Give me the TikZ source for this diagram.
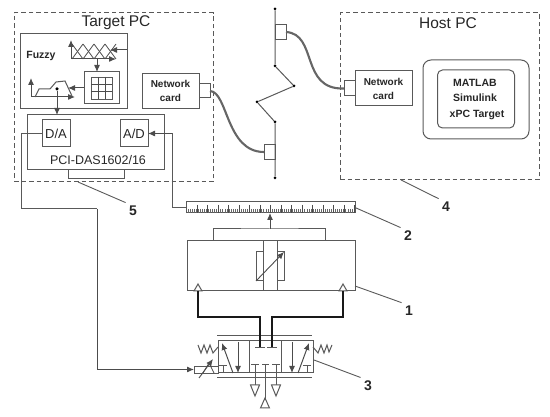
\documentclass[tikz,border=0pt]{standalone}
\usepackage{fontspec}
\setmainfont{Liberation Sans}
\usetikzlibrary{positioning, arrows.meta, calc}

\begin{document}
\begin{tikzpicture}[
    x=1pt, y=-1pt,
    >=Latex,
    every node/.style={align=center, text=black!85},
    frame/.style={draw=black!65, line width=1pt, dash pattern=on 4.5pt off 3pt, minimum width=#1, outer sep=0pt, inner sep=0pt},
    box/.style={draw=black!65, line width=1pt, outer sep=0pt, inner sep=0pt},
    softbox/.style={draw=black!65, line width=1pt, rounded corners=8pt, outer sep=0pt, inner sep=0pt},
    title/.style={font=\fontsize{15.5}{18}\selectfont},
    card/.style={font=\fontsize{10}{14}\selectfont\bfseries},
    number/.style={font=\fontsize{14}{16}\selectfont\bfseries},
    flow/.style={->, line width=1pt, draw=black!70, >={Latex[length=7pt,width=6pt]}},
    wire/.style={line width=1pt, draw=black!65},
    thin wire/.style={line width=0.8pt, draw=black!70},
    leader/.style={line width=0.9pt, draw=black!65},
    cable/.style={line width=2.1pt, draw=black!60},
    pipe/.style={line width=2.4pt, draw=black!90},
    dot/.style={circle, fill=black, inner sep=0pt, minimum size=3.5pt, outer sep=0pt}
]
\useasboundingbox (0,0) rectangle (550,417);

% --------------------------------------------------------------------------
% Target PC
% --------------------------------------------------------------------------
\node[frame=199pt, minimum height=169pt] (target) at (113.5,97.5) {};
\node[title] (targetlabel) at (116,23) {Target PC};

\node[box, minimum width=107pt, minimum height=75pt] (fuzzy) at (73.5,71.5) {};
\node[font=\fontsize{10.5}{12}\selectfont\bfseries] (fuzzylabel) at (41,56) {Fuzzy};
\node[box, minimum width=35pt, minimum height=32pt] (rules) at (101.5,88) {};
\node[box, line width=0.8pt, minimum width=21pt, minimum height=22pt] (grid) at (101.5,88) {};
\foreach \i in {1,2} {
    \draw[thin wire] ($(grid.north west)!\i/3!(grid.north east)$) -- ($(grid.south west)!\i/3!(grid.south east)$);
    \draw[thin wire] ($(grid.north west)!\i/3!(grid.south west)$) -- ($(grid.north east)!\i/3!(grid.south east)$);
}

% Input membership functions
\coordinate (setsorigin) at (71,59);
\draw[flow] (setsorigin) -- +(0,-19);
\draw[flow] (setsorigin) -- +(45,0);
\foreach \k in {0,1,2,3} {
    \draw[thin wire] (72+\k*11,44) -- (83+\k*11,59);
    \draw[thin wire] (72+\k*11,59) -- (83+\k*11,44);
}
\draw[flow] (fuzzy.east |- 0,50) -- (110,50);
\draw[flow] (97,59) -- (rules.north -| 97,0);

% Output membership function
\coordinate (outorigin) at (31,97);
\draw[flow] (outorigin) -- +(0,-19);
\draw[flow] (outorigin) -- +(44,0);
\draw[wire] (35,97) -- (39,89) -- (50,89) -- (56,82) -- (65,81) -- (72,96);
\draw[flow] (rules.west) -- (68,88);
\node[dot] (centroid) at (57,89) {};

% Board
\node[box, minimum width=137pt, minimum height=55pt] (board) at (95.5,142.5) {};
\node[box, minimum width=28pt, minimum height=27pt] (da) at (56,133.5) {\fontsize{13}{14}\selectfont D/A};
\node[box, minimum width=28pt, minimum height=27pt] (ad) at (134,133.5) {\fontsize{13}{14}\selectfont A/D};
\node[font=\fontsize{12.5}{14}\selectfont] (boardlabel) at (98,160) {PCI-DAS1602/16};
\draw[flow] (centroid) -- (board.north -| centroid);
\coordinate (tabl) at (68,170);
\coordinate (tabr) at (124,170);
\draw[wire] (tabl) -- +(0,9) -| (tabr);

\node[box, card, minimum width=57pt, minimum height=35pt] (cardt) at (170.5,91) {Network\\card};
\node[box, minimum width=11pt, minimum height=14pt, anchor=west] (plugt) at (cardt.east) {};

% --------------------------------------------------------------------------
% Host PC
% --------------------------------------------------------------------------
\node[frame=199pt, minimum height=167pt] (host) at (439.5,96.5) {};
\node[title] (hostlabel) at (448,23) {Host PC};
\node[box, card, minimum width=57pt, minimum height=35pt] (cardh) at (383.5,88.5) {Network\\card};
\node[box, minimum width=11pt, minimum height=15pt, anchor=east] (plugh) at (cardh.west) {};
\node[softbox, minimum width=106pt, minimum height=79pt] (outer) at (476,99.5) {};
\node[softbox, rounded corners=5pt, minimum width=77pt, minimum height=58pt] (inner) at (476,99) {};
\node[font=\fontsize{10.5}{12}\selectfont\bfseries] (matlab) at (475,83) {MATLAB};
\node[font=\fontsize{10.5}{12}\selectfont\bfseries] (simulink) at (475,98) {Simulink};
\node[font=\fontsize{10.5}{12}\selectfont\bfseries] (xpc) at (477,115) {xPC Target};

% --------------------------------------------------------------------------
% Network
% --------------------------------------------------------------------------
\node[dot, minimum size=3pt] (nettop) at (275,9) {};
\node[dot, minimum size=3pt] (neta) at (275,66) {};
\node[dot, minimum size=3pt] (netb) at (294,86) {};
\node[dot, minimum size=3pt] (netc) at (257,102) {};
\node[dot, minimum size=3pt] (netd) at (275,122) {};
\node[dot, minimum size=3pt] (netbot) at (275,178) {};
\draw[wire] (nettop) -- (neta) -- (netb) -- (netc) -- (netd) -- (netbot);
\node[box, minimum width=11pt, minimum height=15pt] (plugn) at (280.5,32) {};
\node[box, minimum width=11pt, minimum height=15pt] (plugs) at (269.5,152) {};

\draw[cable] (plugt.east) .. controls (228,92) and (226,152) .. (plugs.west);
\draw[cable] (plugn.east) .. controls (318,34) and (300,90) .. (plugh.west);

% --------------------------------------------------------------------------
% Sensor and cylinder
% --------------------------------------------------------------------------
\node[box, minimum width=169pt, minimum height=11pt] (ruler) at (270.5,207.5) {};
\foreach \t in {0,...,80} {
    \draw[black!60, line width=0.8pt] (188+\t*2.05,209) -- (188+\t*2.05,213);
}
\foreach \t in {0,...,15} {
    \draw[black!70, line width=0.8pt] (197+\t*10.5,205) -- (197+\t*10.5,213);
}
\node[box, minimum width=168pt, minimum height=50pt] (cylinder) at (271,266) {};
\node[box, minimum width=28pt, minimum height=29pt] (core) at (270,266.5) {};
\node[box, fill=white, minimum width=14pt, minimum height=50pt] (piston) at (270,266) {};
\draw[flow, line width=0.9pt] (core.south west) -- (core.north east);

\coordinate (rodl) at (213,241);
\coordinate (rodr) at (325,241);
\coordinate (rodtop) at (270,229);
\draw[wire] (rodl) |- (rodtop) -| (rodr);
\draw[flow] (rodtop) -- (ruler.south -| rodtop);

\coordinate (portl) at (198,291);
\coordinate (portr) at (343,291);
\draw[wire, fill=white] (194,291) -- (198,284) -- (202,291) -- cycle;
\draw[wire, fill=white] (339,291) -- (343,284) -- (347,291) -- cycle;

% --------------------------------------------------------------------------
% Valve
% --------------------------------------------------------------------------
\node[box, minimum width=95pt, minimum height=32pt] (valve) at (265.5,357) {};
\coordinate (midl) at (249,341);
\coordinate (midr) at (281,341);
\draw[wire] (midl) -- (midl |- valve.south);
\draw[wire] (midr) -- (midr |- valve.south);
\draw[wire] (217,336) -- (312,336);
\draw[wire] (217,378) -- (312,378);

% Pipes into the valve
\draw[pipe] (portl) |- (260,317) -- (260,348);
\draw[pipe] (portr) |- (272,317) -- (272,348);
\draw[wire] (255,348) -- (265,348);
\draw[wire] (267,348) -- (277,348);

% Left and right positions
\draw[flow] (233,373) -- (222,343);
\draw[flow] (238,342) -- (238,373);
\draw[wire] (219,366) -- (227,366);
\draw[wire] (223,366) -- (223,373);
\draw[flow] (298,373) -- (309,343);
\draw[flow] (292,342) -- (292,373);
\draw[wire] (303,366) -- (311,366);
\draw[wire] (307,366) -- (307,373);

% Middle position and tank ports
\draw[wire] (251,365) -- (259,365);
\draw[wire] (262,365) -- (269,365);
\draw[wire] (272,365) -- (280,365);
\draw[wire] (255,365) -- (255,385);
\draw[wire] (276,365) -- (276,385);
\draw[wire] (265,365) -- (265,399);
\draw[wire, fill=white] (250.5,385) -- (259.5,385) -- (255,396) -- cycle;
\draw[wire, fill=white] (271.5,385) -- (280.5,385) -- (276,396) -- cycle;
\draw[wire, fill=white] (260.5,408) -- (269.5,408) -- (265,398) -- cycle;

% Springs
\draw[wire] (198,345) -- (201,353) -- (204,345) -- (207,353) -- (210,345) -- (213,353) -- (218,347);
\draw[wire] (313,347) -- (318,353) -- (321,345) -- (324,353) -- (327,345) -- (329,352) -- (332,345);

% Solenoid
\node[box, line width=0.9pt, minimum width=24pt, minimum height=7pt] (coil) at (206,369.5) {};
\draw[thin wire] (203,373) -- (209,363) -- (214,373);
\draw[flow, line width=0.9pt] (199,378) -- (213,359);

% --------------------------------------------------------------------------
% Signal wires and numbered labels
% --------------------------------------------------------------------------
\coordinate (corner) at (97,209);
\draw[wire] (da.west) -- (21,133.5) |- (corner);
\draw[flow] (corner) |- (coil.west);
\draw[wire] (ruler.west) -| (172,133.5);
\draw[flow] (172,133.5) -- (ad.east);

\node[number] (labela) at (409,311) {1};
\node[number] (labelb) at (408,236) {2};
\node[number] (labelc) at (368,386) {3};
\node[number] (labeld) at (446,207) {4};
\node[number] (labele) at (133,211) {5};
\draw[leader] (cylinder.south east) ++(0,-5) -- (labela.north west);
\draw[leader] (ruler.east) -- (labelb.north west);
\draw[leader] (valve.east) ++(1,3) -- (labelc.north west);
\draw[leader] (401,180) -- (labeld.north west);
\draw[leader] (78,182) -- (labele.north west);

\end{tikzpicture}
\end{document}
